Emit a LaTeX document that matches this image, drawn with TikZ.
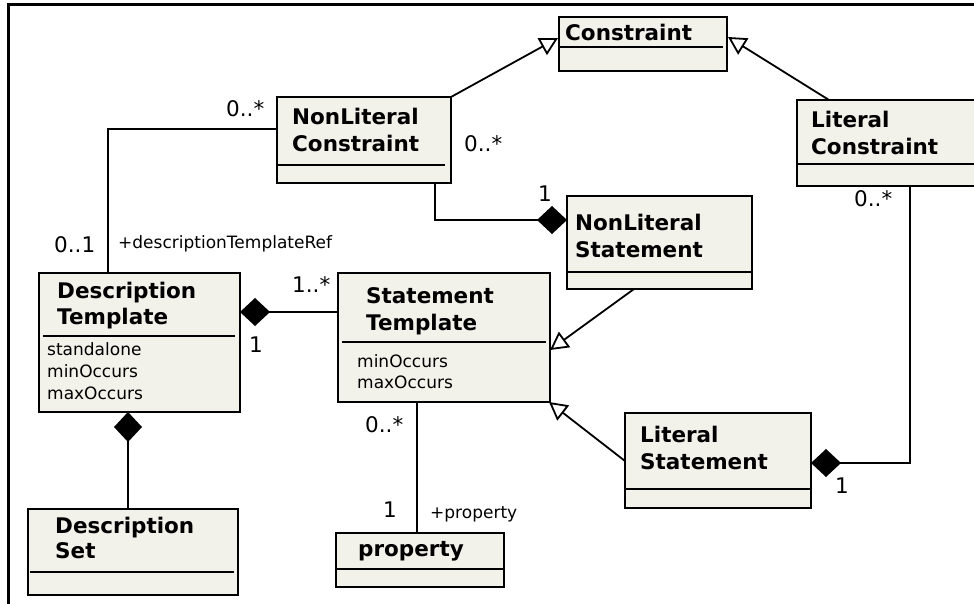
\documentclass[tikz,border=0pt]{standalone}
\usepackage{fontspec}
\setmainfont{DejaVu Sans}
\usetikzlibrary{arrows.meta,calc}
\definecolor{boxfill}{RGB}{242,241,234}
\begin{document}
\begin{tikzpicture}[x=1pt,y=-1pt,
  cls/.style={draw=black, line width=1.8pt, fill=boxfill, inner sep=0pt, outer sep=0pt, anchor=north west},
  sepA/.style={line width=2.2pt},
  sepB/.style={line width=1.1pt},
  cname/.style={font=\fontsize{21.5}{26}\selectfont\bfseries, anchor=base west, inner sep=0pt},
  attr/.style={font=\fontsize{17}{20}\selectfont, anchor=base west, inner sep=0pt},
  mult/.style={font=\fontsize{21.5}{24}\selectfont, anchor=base west, inner sep=0pt},
  role/.style={font=\fontsize{17}{20}\selectfont, anchor=base west, inner sep=0pt},
  conn/.style={line width=1.8pt},
  gen/.style={conn, -{Triangle[open, length=18pt, width=19pt, line width=1.8pt]}},
  comp/.style={conn, {Diamond[length=30pt, width=28pt]}-},
]
\useasboundingbox (0,0) rectangle (974,604);
% frame
\draw[line width=3pt] (8,606) -- (8,5) -- (976,5);

% Constraint
\node[cls, minimum width=168pt, minimum height=54pt] (con) at (559,17) {};
\draw[sepA] (559,47) -- (723,47);
\node[cname] (conT) at (565,41) {Constraint};

% NonLiteral Constraint
\node[cls, minimum width=174pt, minimum height=86pt] (nlc) at (277,97) {};
\draw[sepA] (277,165) -- (445,165);
\node[cname] (nlcT1) at (292,125) {NonLiteral};
\node[cname] (nlcT2) at (292,152) {Constraint};

% Literal Constraint
\node[cls, minimum width=182pt, minimum height=86pt] (lc) at (797,100) {};
\draw[sepA] (797,164) -- (979,164);
\node[cname] (lcT1) at (811,128) {Literal};
\node[cname] (lcT2) at (811,155) {Constraint};

% NonLiteral Statement
\node[cls, minimum width=185pt, minimum height=93pt] (nls) at (567,196) {};
\draw[sepA] (567,272) -- (752,272);
\node[cname] (nlsT1) at (575,230) {NonLiteral};
\node[cname] (nlsT2) at (575,257) {Statement};

% Description Template
\node[cls, minimum width=201pt, minimum height=139pt] (dt) at (39,273) {};
\draw[sepB] (43,336) -- (235,336);
\node[cname] (dtT1) at (57,298) {Description};
\node[cname] (dtT2) at (57,324) {Template};
\node[attr] (dtA1) at (47,355) {standalone};
\node[attr] (dtA2) at (47,377) {minOccurs};
\node[attr] (dtA3) at (47,399) {maxOccurs};

% Statement Template
\node[cls, minimum width=212pt, minimum height=129pt] (st) at (338,273) {};
\draw[sepB] (342,342) -- (546,342);
\node[cname] (stT1) at (366,303) {Statement};
\node[cname] (stT2) at (366,330) {Template};
\node[attr] (stA1) at (357,367) {minOccurs};
\node[attr] (stA2) at (357,388) {maxOccurs};

% Description Set
\node[cls, minimum width=210pt, minimum height=86pt] (ds) at (28,509) {};
\draw[sepB] (30,572) -- (234,572);
\node[cname] (dsT1) at (55,533) {Description};
\node[cname] (dsT2) at (55,558) {Set};

% property
\node[cls, minimum width=168pt, minimum height=54pt] (prop) at (336,533) {};
\draw[sepB] (336,569) -- (504,569);
\node[cname] (propT) at (358,556) {property};

% Literal Statement
\node[cls, minimum width=186pt, minimum height=95pt] (ls) at (625,413) {};
\draw[sepA] (625,489) -- (811,489);
\node[cname] (lsT1) at (640,442) {Literal};
\node[cname] (lsT2) at (640,469) {Statement};

% connectors
\draw[gen] (nlc.north east) -- ($(con.north west)+(-1,21)$);
\draw[gen] ($(lc.north west)+(32,0)$) -- ($(con.north east)+(1,20)$);
\draw[conn] ($(nlc.north west)+(0,32)$) -| ($(dt.north west)+(69,0)$);
\draw[comp] ($(nls.north west)+(0,24)$) -| ($(nlc.south west)+(158,0)$);
\draw[comp] ($(dt.north east)+(0,39)$) -- ($(st.north west)+(0,39)$);
\draw[comp] ($(dt.south west)+(89,0)$) -- ($(ds.north west)+(100,0)$);
\draw[conn] ($(st.south west)+(79,0)$) -- ($(prop.north west)+(81,0)$);
\draw[gen] ($(nls.south west)+(67,0)$) -- ($(st.north east)+(0,77)$);
\draw[gen] ($(ls.north west)+(0,48)$) -- ($(st.south east)+(-1,0)$);
\draw[comp] ($(ls.north east)+(0,50)$) -| ($(lc.south west)+(113,0)$);

% labels
\node[mult] (m1) at (226,117) {0..*};
\node[mult] (m2) at (54,252) {0..1};
\node[role] (r1) at (118,248) {+descriptionTemplateRef};
\node[mult] (m3) at (464,152) {0..*};
\node[mult] (m4) at (538,201) {1};
\node[mult] (m5) at (292,292) {1..*};
\node[mult] (m6) at (249,352) {1};
\node[mult] (m7) at (365,432) {0..*};
\node[mult] (m8) at (383,517) {1};
\node[role] (r2) at (430,518) {+property};
\node[mult] (m9) at (854,207) {0..*};
\node[mult] (m10) at (835,493) {1};
\end{tikzpicture}
\end{document}
